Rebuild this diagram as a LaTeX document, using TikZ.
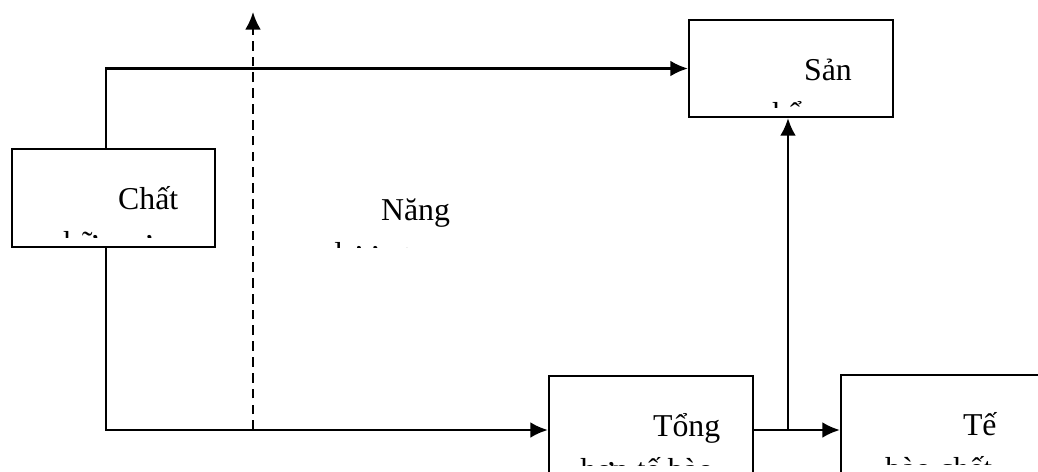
\documentclass[tikz,border=0pt]{standalone}
\usepackage{fontspec}
\setmainfont{Liberation Serif}
\usetikzlibrary{fit,arrows.meta}
\tikzset{
  box/.style={draw, line width=1.3pt, inner sep=0pt},
  lbl/.style={font=\fontsize{18.1}{24.9}\selectfont, inner sep=0pt, align=left, anchor=base west},
  flow/.style={-{Latex[length=10pt,width=9pt]}, line width=1.3pt},
  dflow/.style={flow, dash pattern=on 5.5pt off 3.5pt}
}

\begin{document}
\begin{tikzpicture}[x=0.02cm, y=-0.02cm]
  \useasboundingbox (0,0) rectangle (1038,471);
  \clip (0,0) rectangle (1038,471);

  % boxes
  \node[box, fit={(12,149) (215,247)}] (chat) {};
  \node[box, fit={(689,20) (893,117)}] (san) {};
  \node[box, fit={(549,376) (753,484)}] (tong) {};
  \node[box, fit={(841,375) (1100,485)}] (te) {};

  % labels, cut off at the lower edge of their text frames
  % (base anchor sits on the second line)
  \begin{scope}
    \clip (12,149) rectangle (215,237);
    \node[lbl] (chattxt) at (63,253) {\hspace*{31.2pt}Chất\\hữu cơ};
  \end{scope}
  \begin{scope}
    \clip (689,20) rectangle (893,107);
    \node[lbl] (santxt) at (756,124) {\hspace*{27.2pt}Sản\\phẩm};
  \end{scope}
  \begin{scope}
    \clip (300,180) rectangle (520,247);
    \node[lbl] (nang) at (334,264) {\hspace*{26.6pt}Năng\\lượng};
  \end{scope}
  \begin{scope}
    \clip (549,376) rectangle (753,465);
    \node[lbl] (tongtxt) at (580,480) {\hspace*{41.4pt}Tổng\\hợp tế bào};
  \end{scope}
  \begin{scope}
    \clip (841,375) rectangle (1038,464);
    \node[lbl] (tetxt) at (885,479) {\hspace*{44.2pt}Tế\\bào chết};
  \end{scope}

  % connectors
  \coordinate (trunk) at (106,0);
  \coordinate (split) at (788,430);
  \coordinate (nrg) at (253,12);
  \draw[flow] (chat.north -| trunk) |- (san);
  \draw[flow] (chat.south -| trunk) |- (tong);
  \draw[flow] (tong) -- (te);
  \draw[flow] (split) -- (split |- san.south);
  \draw[dflow] (nrg |- tong) -- (nrg);
\end{tikzpicture}
\end{document}
